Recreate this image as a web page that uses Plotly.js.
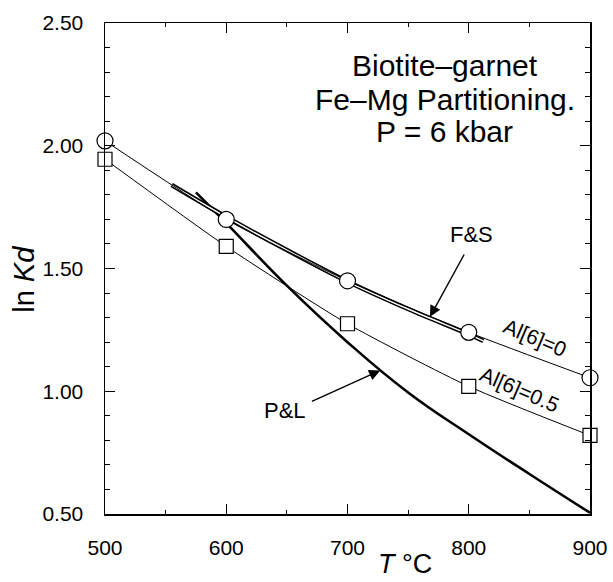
<!DOCTYPE html>
<html>
<head>
<meta charset="utf-8">
<script src="https://cdn.plot.ly/plotly-3.0.1.min.js"></script>
<style>html,body{margin:0;padding:0;background:#fff;}#chart{width:613px;height:582px;}</style>
</head>
<body>
<div id="chart"></div>
<script>
// Data
const temps = [500, 600, 700, 800, 900];
const lnKdAl0 = [2.02, 1.70, 1.45, 1.24, 1.055];
const lnKdAl05 = [1.945, 1.59, 1.275, 1.02, 0.82];
const fsT = [555, 600, 650, 700, 750, 800, 812];
const fsLnKd = [1.84, 1.71, 1.575, 1.447, 1.335, 1.232, 1.205];
const plT = [575, 600, 650, 700, 750, 800, 850, 900];
const plLnKd = [1.81, 1.685, 1.43, 1.20, 0.995, 0.825, 0.663, 0.505];
const yTickVals = [0.5, 1.0, 1.5, 2.0, 2.5];
const xTickVals = [500, 600, 700, 800, 900];

const FONT = 'Liberation Sans, Arial, Helvetica, sans-serif';

const traces = [
  {x: plT, y: plLnKd, mode: 'lines', line: {color: '#000', width: 2.6, shape: 'spline', smoothing: 1.3}, hoverinfo: 'skip', showlegend: false},
  {x: fsT, y: fsLnKd, mode: 'lines', line: {color: '#000', width: 4.5, shape: 'spline'}, hoverinfo: 'skip', showlegend: false},
  {x: fsT, y: fsLnKd, mode: 'lines', line: {color: '#fff', width: 1.4, shape: 'spline'}, hoverinfo: 'skip', showlegend: false},
  {x: temps, y: lnKdAl05, mode: 'lines+markers', name: 'Al[6]=0.5', cliponaxis: false,
   line: {color: '#000', width: 1, shape: 'spline', smoothing: 0.6},
   marker: {symbol: 'square', size: 14, color: '#fff', line: {color: '#000', width: 1.2}}, showlegend: false},
  {x: temps, y: lnKdAl0, mode: 'lines+markers', name: 'Al[6]=0', cliponaxis: false,
   line: {color: '#000', width: 1, shape: 'spline', smoothing: 0.6},
   marker: {symbol: 'circle', size: 16, color: '#fff', line: {color: '#000', width: 1.2}}, showlegend: false}
];

const txt = (text, x, y, size, extra) => Object.assign({
  text: text, x: x, y: y, xref: 'x', yref: 'y', showarrow: false,
  font: {family: FONT, size: size, color: '#000'}, xanchor: 'center', yanchor: 'middle'
}, extra || {});

const annotations = [
  txt('Biotite\u2013garnet', 780, 2.325, 30),
  txt('Fe\u2013Mg Partitioning.', 780, 2.188, 30),
  txt('P = 6 kbar', 780, 2.058, 30),
  txt('F&amp;S', 802.6, 1.637, 22),
  txt('P&amp;L', 648.8, 0.923, 22),
  txt('Al[6]=0', 854.4, 1.217, 21, {textangle: 23}),
  txt('Al[6]=0.5', 842, 1.009, 21, {textangle: 23.5}),
  {text: '', x: 768, y: 1.303, ax: 796.9, ay: 1.563, axref: 'x', ayref: 'y', xref: 'x', yref: 'y',
   showarrow: true, arrowhead: 2, arrowsize: 1.6, arrowwidth: 1.4, arrowcolor: '#000', standoff: 0},
  {text: '', x: 727, y: 1.085, ax: 669.4, ay: 0.956, axref: 'x', ayref: 'y', xref: 'x', yref: 'y',
   showarrow: true, arrowhead: 2, arrowsize: 1.6, arrowwidth: 1.4, arrowcolor: '#000', standoff: 0},
  {text: 'ln <i>Kd</i>', xref: 'paper', yref: 'paper', x: -0.167, y: 0.477, showarrow: false,
   textangle: -90, font: {family: FONT, size: 29, color: '#000'}, xanchor: 'center', yanchor: 'middle'},
  {text: '<i>T</i> \u00b0C', xref: 'paper', yref: 'paper', x: 0.619, y: -0.101, showarrow: false,
   font: {family: FONT, size: 27, color: '#000'}, xanchor: 'center', yanchor: 'middle'}
];

const layout = {
  width: 613, height: 582,
  margin: {l: 105, r: 23, t: 23, b: 68, pad: 0},
  paper_bgcolor: '#fff', plot_bgcolor: '#fff',
  font: {family: FONT, color: '#000'},
  showlegend: false,
  xaxis: {
    range: [500, 900], tickvals: xTickVals, ticktext: xTickVals.map(String),
    ticks: 'inside', ticklen: 10, tickwidth: 1.2, tickcolor: '#000',
    minor: {dtick: 50, ticks: 'inside', ticklen: 4, tickwidth: 1, tickcolor: '#000', showgrid: false},
    showline: true, linecolor: '#000', linewidth: 1.5, mirror: 'ticks',
    showgrid: false, zeroline: false,
    tickfont: {family: FONT, size: 21, color: '#000'}, ticklabelstandoff: 14
  },
  yaxis: {
    range: [0.5, 2.5], tickvals: yTickVals, ticktext: yTickVals.map(v => v.toFixed(2)),
    ticks: 'inside', ticklen: 10, tickwidth: 1.2, tickcolor: '#000',
    minor: {dtick: 0.1, ticks: 'inside', ticklen: 5, tickwidth: 1, tickcolor: '#000', showgrid: false},
    showline: true, linecolor: '#000', linewidth: 1.5, mirror: 'ticks',
    showgrid: false, zeroline: false,
    tickfont: {family: FONT, size: 21, color: '#000'}, ticklabelstandoff: 16
  },
  annotations: annotations
};

Plotly.newPlot('chart', traces, layout, {displayModeBar: false, staticPlot: true});
</script>
</body>
</html>
